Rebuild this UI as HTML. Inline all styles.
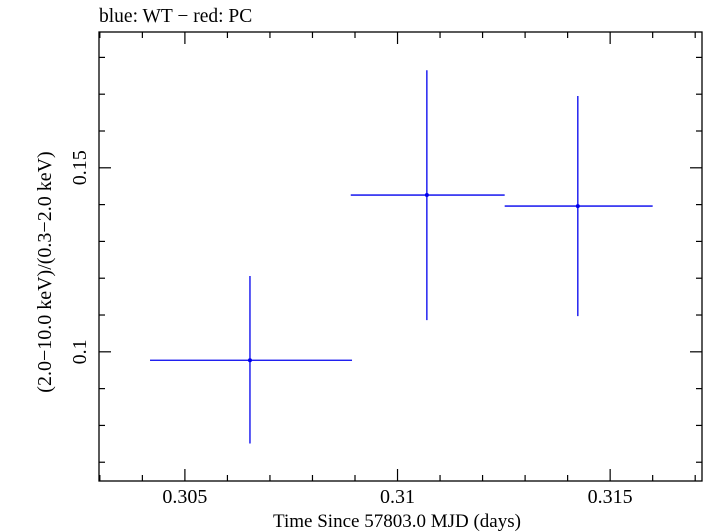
<!DOCTYPE html>
<html><head><meta charset="utf-8">
<style>
body{margin:0;background:#fff;}
svg{display:block;font-family:"Liberation Serif",serif;}
</style></head>
<body>
<svg id="chart" width="705" height="532">
<text x="99" y="22" font-size="19.5">blue: WT − red: PC</text>
<rect x="99" y="32" width="603" height="449" fill="none" stroke="#000" stroke-width="1.3"/>
<g id="ticks"></g>
<g id="series"></g>
<text x="397" y="527" font-size="19" text-anchor="middle">Time Since 57803.0 MJD (days)</text>
<text transform="translate(51,272) rotate(-90)" font-size="20" text-anchor="middle">(2.0−10.0 keV)/(0.3−2.0 keV)</text>
</svg>
<script>
const xVals=[0.30653,0.31069,0.31424];
const xLo=[0.30418,0.30890,0.31252];
const xHi=[0.30893,0.31252,0.31600];
const yVals=[0.0977,0.1426,0.1396];
const yLo=[0.0751,0.1086,0.1097];
const yHi=[0.1206,0.1765,0.1695];
const xTickLabels=["0.305","0.31","0.315"];
const yTickLabels=["0.1","0.15"];
const X0=0.30298,X1=0.31716,Y0=0.0649,Y1=0.1869;
const L=99,R=702,T=32,B=481;
const sx=v=>L+(v-X0)/(X1-X0)*(R-L);
const sy=v=>B-(v-Y0)/(Y1-Y0)*(B-T);
const NS="http://www.w3.org/2000/svg";
function mk(tag,attrs,parent){const e=document.createElementNS(NS,tag);for(const k in attrs)e.setAttribute(k,attrs[k]);parent.appendChild(e);return e;}
const tg=document.getElementById('ticks');
for(let i=0;i<=14;i++){const v=0.303+i*0.001;if(v>X1)break;const x=sx(v);const major=(i%5===2);const len=major?12:6;
 const t1=mk('line',{x1:x,x2:x,y1:B,y2:B-len,stroke:'#000','stroke-width':1.2},tg);
 
 
 const t2=mk('line',{x1:x,x2:x,y1:T,y2:T+len,stroke:'#000','stroke-width':1.2},tg);
 
 }
xTickLabels.forEach(s=>{const t=mk('text',{x:sx(parseFloat(s)),y:503,'font-size':20,'text-anchor':'middle'},tg);t.textContent=s;
 
 });
for(let i=7;i<=18;i++){const v=i*0.01;const y=sy(v);const major=(i%5===0);const len=major?12:6;
 const t1=mk('line',{x1:L,x2:L+len,y1:y,y2:y,stroke:'#000','stroke-width':1.2},tg);
 
 
 const t2=mk('line',{x1:R,x2:R-len,y1:y,y2:y,stroke:'#000','stroke-width':1.2},tg);
 
 }
yTickLabels.forEach(s=>{const y=sy(parseFloat(s));const t=mk('text',{transform:`translate(86,${y}) rotate(-90)`,'font-size':20,'text-anchor':'middle'},tg);t.textContent=s;
 
 });
const sg=document.getElementById('series');
xVals.forEach((xv,i)=>{
 const h=mk('line',{x1:sx(xLo[i]),x2:sx(xHi[i]),y1:sy(yVals[i]),y2:sy(yVals[i]),stroke:'#0000ee','stroke-width':1.3},sg);
 
 
 const v=mk('line',{x1:sx(xv),x2:sx(xv),y1:sy(yLo[i]),y2:sy(yHi[i]),stroke:'#0000ee','stroke-width':1.3},sg);
 
 
 const c=mk('circle',{cx:sx(xv),cy:sy(yVals[i]),r:2,fill:'#0000ee'},sg);
 
 
});
</script>
</body></html>
